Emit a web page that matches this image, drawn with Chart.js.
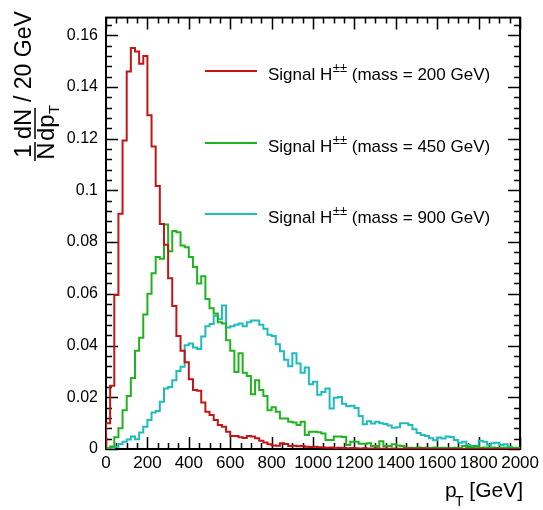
<!DOCTYPE html>
<html>
<head>
<meta charset="utf-8">
<script src="https://cdn.jsdelivr.net/npm/chart.js@4.4.1/dist/chart.umd.min.js"></script>
<style>
  html, body { margin: 0; padding: 0; background: #fff; }
  canvas { display: block; }
</style>
</head>
<body>
<canvas id="chart" width="543" height="510"></canvas>
<script>
// p_T spectra of H++ signal, 100 bins of 20 GeV from 0 to 2000 GeV
const binWidth = 20;
const binLowEdges = Array.from({ length: 100 }, (_, i) => i * binWidth);

const xTickLabels = [0, 200, 400, 600, 800, 1000, 1200, 1400, 1600, 1800, 2000];
const yTickLabels = [0, 0.02, 0.04, 0.06, 0.08, 0.1, 0.12, 0.14, 0.16];

const seriesNames = [
  'Signal H|±±| (mass = 200 GeV)',
  'Signal H|±±| (mass = 450 GeV)',
  'Signal H|±±| (mass = 900 GeV)'
];

// mass = 200 GeV
const signal200 = [
  0.001, 0.010, 0.0245, 0.0595, 0.091, 0.1193, 0.146, 0.155, 0.1537, 0.149,
  0.152, 0.129, 0.117, 0.1017, 0.087, 0.079, 0.066, 0.0553, 0.0437, 0.038,
  0.0335, 0.027, 0.0228, 0.0225, 0.018, 0.0144, 0.0131, 0.0112, 0.0093, 0.0086,
  0.0067, 0.005, 0.005, 0.0045, 0.0043, 0.005, 0.0048, 0.0042, 0.0032, 0.0025,
  0.0018, 0.0014, 0.0013, 0.0022, 0.0019, 0.0012, 0.0013, 0.0011, 0.0012, 0.0009,
  0.0008, 0.0009, 0.0007, 0.0006, 0.0005, 0.0006, 0.0004, 0.0005, 0.0004, 0.0003,
  0.0004, 0.0003, 0.0002, 0.0003, 0.0002, 0.0002, 0.0003, 0.0001, 0.0002, 0.0001,
  0.0002, 0.0001, 0.0001, 0.0002, 0.0001, 0.0001, 0.0001, 0.0002, 0.0001, 0,
  0.0001, 0.0001, 0, 0.0001, 0, 0.0001, 0, 0, 0.0001, 0,
  0, 0.0001, 0, 0, 0, 0.0001, 0, 0, 0, 0
];

// mass = 450 GeV
const signal450 = [
  0, 0.0003, 0.001, 0.0045, 0.008, 0.015, 0.0205, 0.0275, 0.038, 0.043,
  0.052, 0.060, 0.068, 0.0742, 0.0736, 0.0868, 0.0765, 0.0843, 0.0838, 0.0787,
  0.078, 0.0742, 0.0704, 0.064, 0.0668, 0.058, 0.0544, 0.0524, 0.049, 0.0485,
  0.042, 0.038, 0.0298, 0.037, 0.0295, 0.0282, 0.0212, 0.0266, 0.0228, 0.0205,
  0.015, 0.0161, 0.0144, 0.0118, 0.0118, 0.0105, 0.0102, 0.0093, 0.0105, 0.0054,
  0.0067, 0.0067, 0.0065, 0.006, 0.0035, 0.0035, 0.0048, 0.0048, 0.0046, 0.0015,
  0.0028, 0.0028, 0.002, 0.002, 0.0022, 0.0012, 0.0012, 0.003, 0.0012, 0.0012,
  0.0018, 0.0014, 0.0012, 0.0005, 0.0005, 0.0004, 0.0006, 0.0004, 0.0005, 0.0004,
  0.0006, 0.0004, 0.0005, 0.0003, 0.0004, 0.0005, 0.0004, 0.0012, 0.0008, 0.0008,
  0.0012, 0.0004, 0.0006, 0.0005, 0.0006, 0.0004, 0.0005, 0.0006, 0.0004, 0.0005
];

// mass = 900 GeV
const signal900 = [
  0.0002, 0.0003, 0.0004, 0.0009, 0.0019, 0.0028, 0.0037, 0.0048, 0.0038, 0.0064,
  0.0086, 0.0112, 0.0141, 0.0147, 0.0183, 0.0234, 0.024, 0.0266, 0.0302, 0.0318,
  0.0401, 0.0408, 0.0392, 0.0387, 0.0435, 0.0475, 0.0483, 0.0515, 0.0502, 0.0555,
  0.047, 0.0475, 0.048, 0.0485, 0.0475, 0.049, 0.0497, 0.0497, 0.048, 0.0465,
  0.0442, 0.0437, 0.0405, 0.0378, 0.0345, 0.032, 0.037, 0.0331, 0.0295, 0.0315,
  0.025, 0.026, 0.021, 0.022, 0.0234, 0.0157, 0.0198, 0.0201, 0.0175, 0.0165,
  0.0167, 0.0159, 0.0128, 0.0096, 0.0107, 0.0099, 0.0105, 0.0100, 0.0097, 0.0091,
  0.0082, 0.0084, 0.0100, 0.0100, 0.0093, 0.0076, 0.0062, 0.0054, 0.005, 0.0042,
  0.0034, 0.0044, 0.0041, 0.0048, 0.0046, 0.0035, 0.0024, 0.0028, 0.0015, 0.0012,
  0.0008, 0.0032, 0.0028, 0.0016, 0.0022, 0.0024, 0.0015, 0.0018, 0.0008, 0.0004
];

const seriesColors = ['#c41414', '#1fb41f', '#1ebcbc'];

const FONT = "'Liberation Sans', Arial, Helvetica, sans-serif";

// histogram outline: start on the axis, one point per bin low edge, close back on the axis
function histPoints(values) {
  const pts = [{ x: binLowEdges[0], y: 0 }];
  values.forEach((v, i) => pts.push({ x: binLowEdges[i], y: v }));
  const last = binLowEdges[binLowEdges.length - 1] + binWidth;
  pts.push({ x: last, y: values[values.length - 1] });
  pts.push({ x: last, y: 0 });
  return pts;
}

// ROOT style frame with ticks pointing inside on all four sides
const frameTicks = {
  id: 'frameTicks',
  beforeDatasetsDraw(chart) {
    const { ctx, chartArea: { left, right, top, bottom }, scales: { x, y } } = chart;
    ctx.save();
    ctx.strokeStyle = '#000';
    ctx.lineWidth = 1.5;
    ctx.beginPath();
    for (let v = 0; v <= 2000; v += 50) {
      const px = Math.round(x.getPixelForValue(v)) + 0.5;
      const len = v % 200 === 0 ? 12 : 6;
      ctx.moveTo(px, bottom); ctx.lineTo(px, bottom - len);
      ctx.moveTo(px, top); ctx.lineTo(px, top + len);
    }
    for (let k = 0; k * 0.004 <= y.max; k++) {
      const py = Math.round(y.getPixelForValue(k * 0.004)) + 0.5;
      const len = k % 5 === 0 ? 12 : 6;
      ctx.moveTo(left, py); ctx.lineTo(left + len, py);
      ctx.moveTo(right, py); ctx.lineTo(right - len, py);
    }
    ctx.stroke();
    ctx.lineWidth = 2;
    ctx.strokeRect(left, top, right - left, bottom - top);
    ctx.restore();
  }
};

// axis titles and legend text with sub/superscripts
const annotations = {
  id: 'annotations',
  afterDraw(chart) {
    const { ctx } = chart;
    ctx.save();
    ctx.fillStyle = '#000';
    ctx.textBaseline = 'alphabetic';

    // x title: p_T [GeV]
    ctx.font = '21px ' + FONT;
    ctx.textAlign = 'right';
    ctx.fillText('[GeV]', 523, 497);
    ctx.textAlign = 'left';
    ctx.fillText('p', 445, 497);
    ctx.font = '14px ' + FONT;
    ctx.fillText('T', 455, 506);

    // y title: 1/N dN/dp_T / 20 GeV (rotated)
    ctx.save();
    ctx.rotate(-Math.PI / 2);
    ctx.font = '24px ' + FONT;
    ctx.textAlign = 'center';
    ctx.fillText('1', -151, 31);
    ctx.fillText('N', -151, 54);
    ctx.fillText('dN', -124, 31);
    ctx.textAlign = 'left';
    ctx.fillText('dp', -141, 54);
    ctx.font = '23px ' + FONT;
    ctx.fillText('/ 20 GeV', -102, 31);
    ctx.font = '15px ' + FONT;
    ctx.fillText('T', -114, 59);
    ctx.restore();
    ctx.strokeStyle = '#000';
    ctx.lineWidth = 1.5;
    ctx.beginPath();
    ctx.moveTo(35, 161); ctx.lineTo(35, 142);
    ctx.moveTo(35, 139); ctx.lineTo(35, 108);
    ctx.stroke();

    // legend
    const rowsY = [71, 143, 214];
    seriesNames.forEach((name, i) => {
      const ly = rowsY[i];
      ctx.strokeStyle = seriesColors[i];
      ctx.lineWidth = 2;
      ctx.beginPath();
      ctx.moveTo(205, ly); ctx.lineTo(257, ly);
      ctx.stroke();
      const [pre, sup, post] = name.split('|');
      let tx = 268;
      ctx.textAlign = 'left';
      ctx.font = '17px ' + FONT;
      ctx.fillText(pre, tx, ly + 9);
      tx += ctx.measureText(pre).width + 0.5;
      ctx.font = '13px ' + FONT;
      ctx.fillText(sup, tx, ly + 1);
      tx += ctx.measureText(sup).width;
      ctx.font = '17px ' + FONT;
      ctx.fillText(post, tx, ly + 9);
    });
    ctx.restore();
  }
};

Chart.defaults.color = '#000';
Chart.defaults.font.family = FONT;

new Chart(document.getElementById('chart'), {
  type: 'line',
  data: {
    datasets: [signal200, signal450, signal900].map((vals, i) => ({
      label: seriesNames[i].replace(/\|/g, ''),
      data: histPoints(vals),
      borderColor: seriesColors[i],
      borderWidth: 2,
      pointRadius: 0,
      fill: false,
      stepped: 'after',
      tension: 0
    }))
  },
  plugins: [frameTicks, annotations],
  options: {
    responsive: false,
    animation: false,
    layout: { padding: { left: 0, top: 17, right: 21, bottom: 0 } },
    scales: {
      x: {
        type: 'linear',
        min: 0,
        max: 2000,
        grid: { display: false, drawTicks: false },
        border: { display: false },
        afterBuildTicks: (scale) => { scale.ticks = xTickLabels.map(v => ({ value: v })); },
        afterFit: (scale) => { scale.height = 61; },
        ticks: {
          font: { size: 17 },
          padding: 4,
          maxRotation: 0,
          autoSkip: false,
          callback: (v) => String(v)
        }
      },
      y: {
        min: 0,
        max: 0.1668,
        grid: { display: false, drawTicks: false },
        border: { display: false },
        afterBuildTicks: (scale) => { scale.ticks = yTickLabels.map(v => ({ value: v })); },
        afterFit: (scale) => { scale.width = 106; },
        ticks: {
          font: { size: 16 },
          padding: 8,
          autoSkip: false,
          callback: (v) => String(+v.toFixed(2))
        }
      }
    },
    plugins: {
      legend: { display: false },
      tooltip: { enabled: false }
    }
  }
});
</script>
</body>
</html>
